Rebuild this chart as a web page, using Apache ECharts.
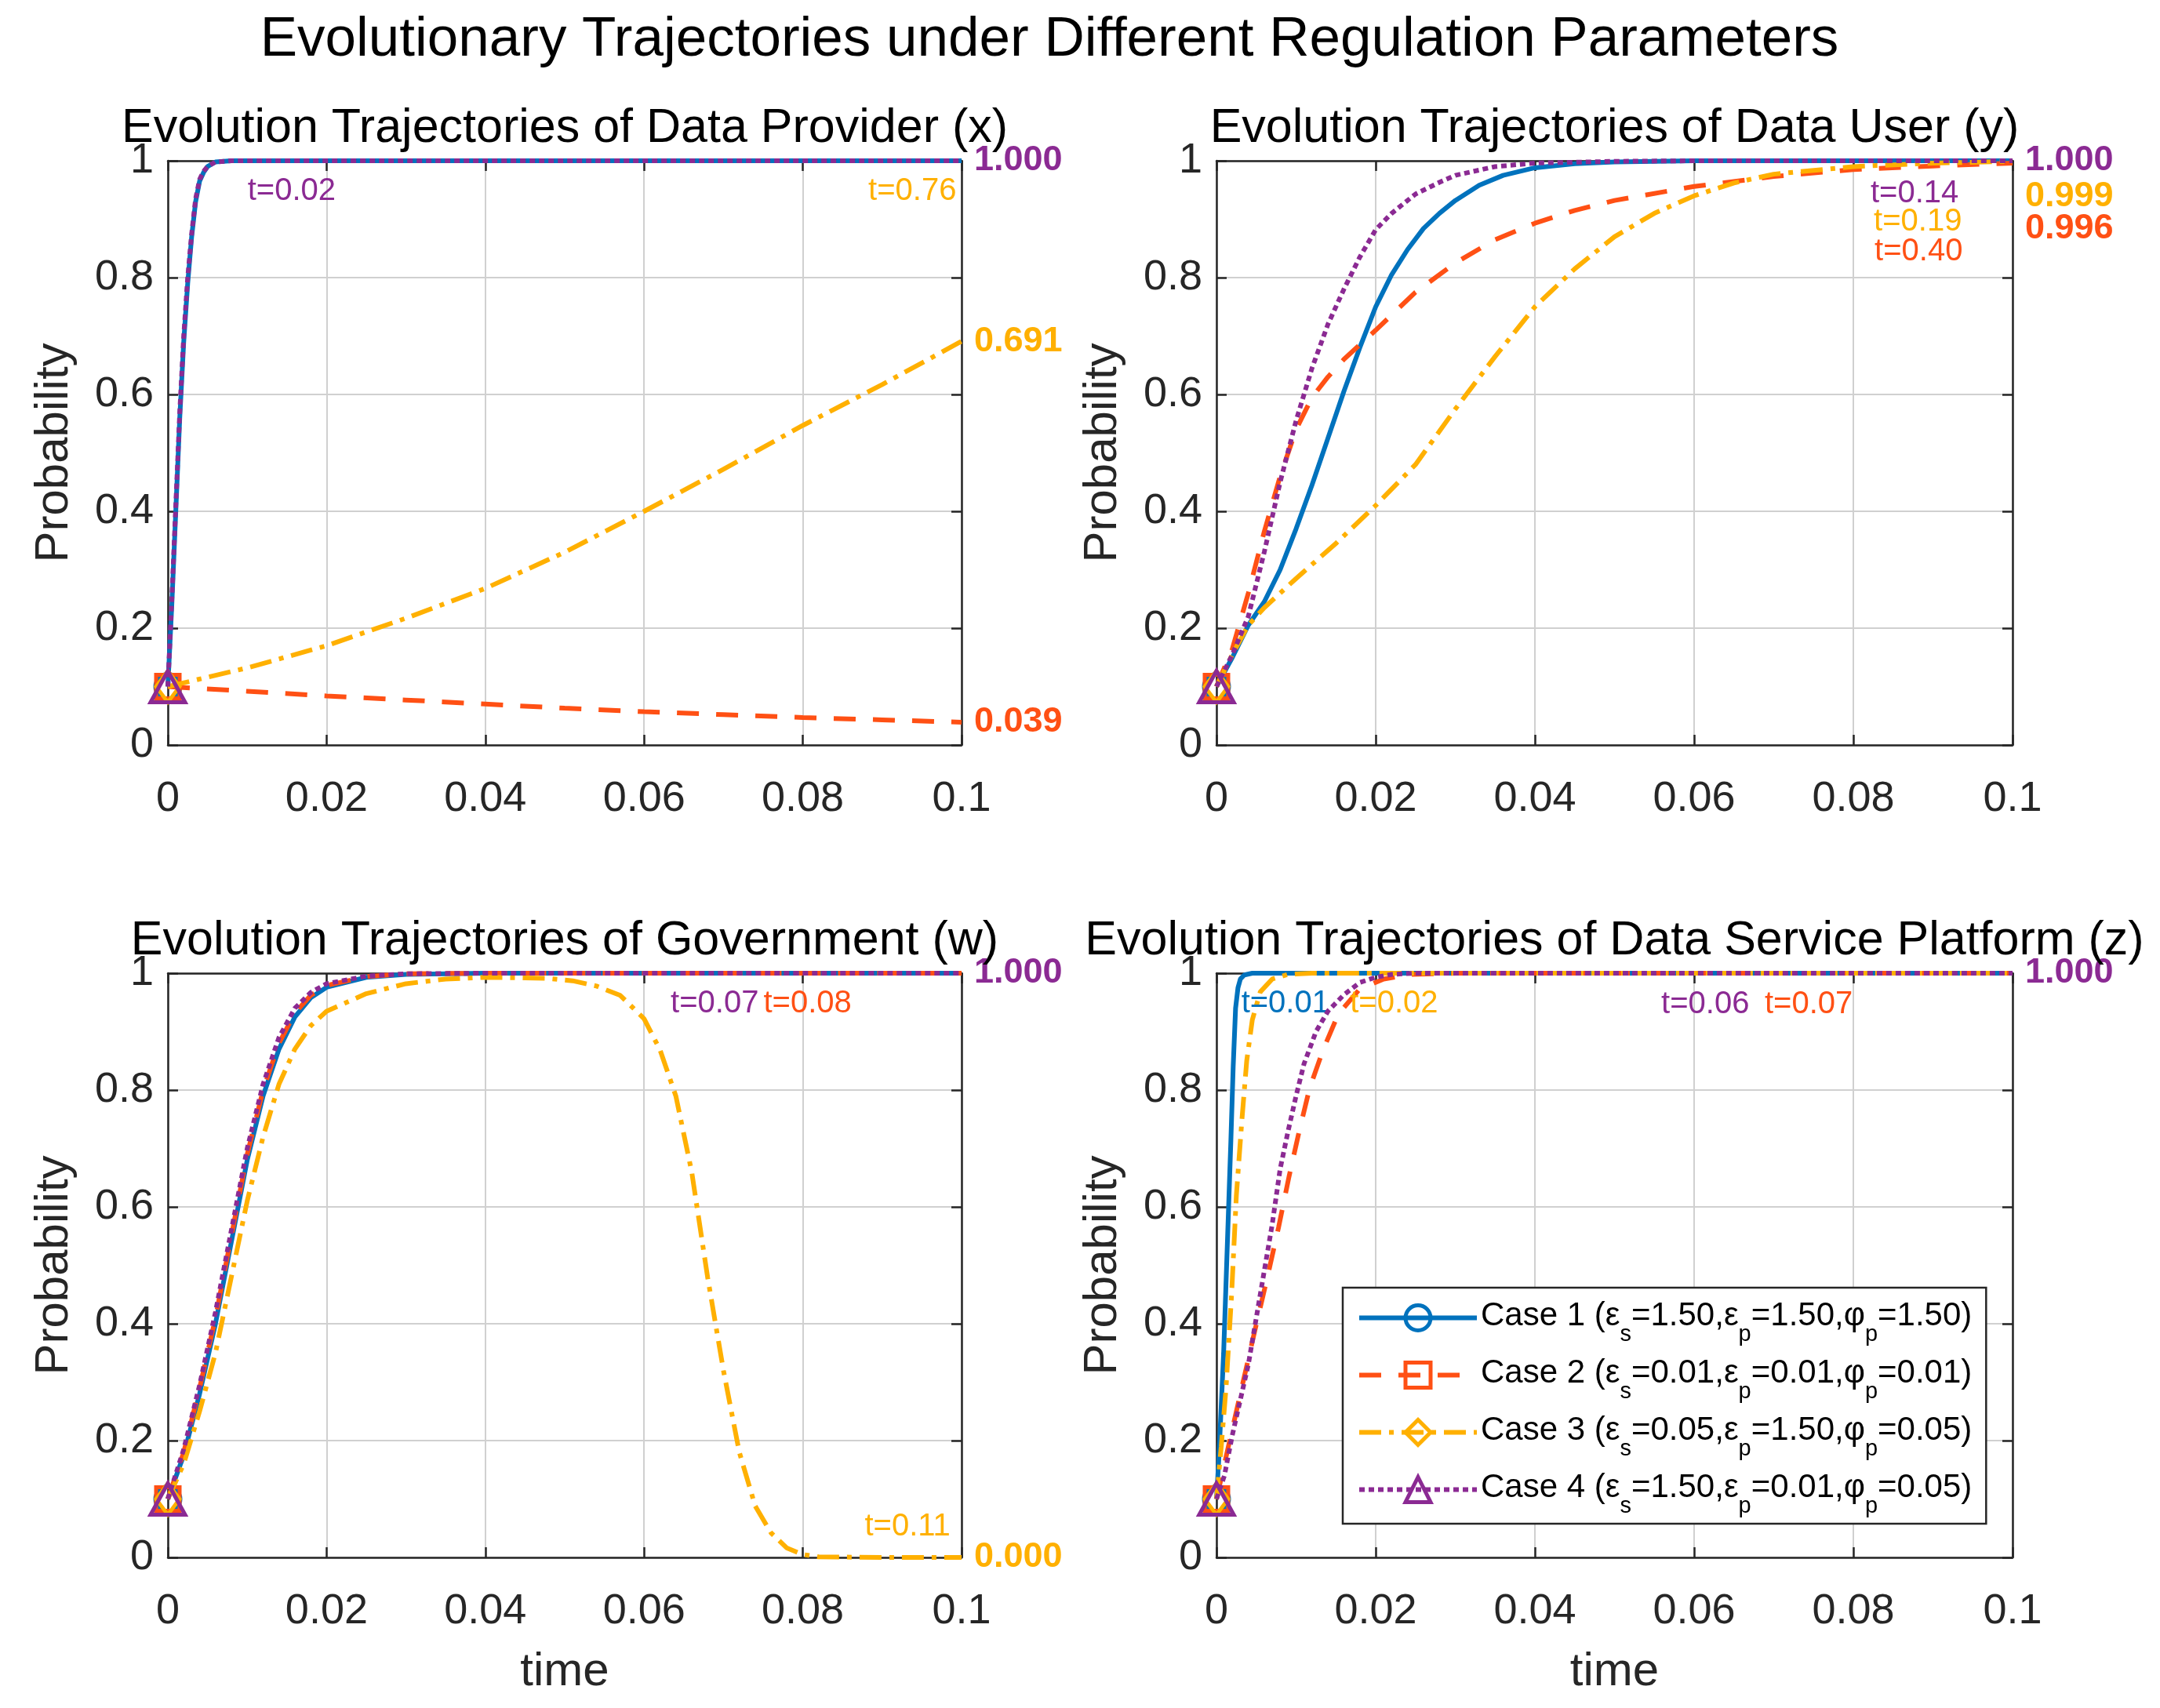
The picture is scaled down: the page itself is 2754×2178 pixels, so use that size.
<!DOCTYPE html>
<html><head><meta charset="utf-8">
<script src="https://cdn.jsdelivr.net/npm/echarts@6/dist/echarts.min.js"></script>
<style>html,body{margin:0;padding:0;background:#fff}#c{width:2754px;height:2178px}</style>
</head><body><div id="c"></div>
<script>
// ---------------- data ----------------
const xTickStep = 0.02;
const yTickStep = 0.2;
const caseNames = ['Case 1', 'Case 2', 'Case 3', 'Case 4'];
const epsS = ['1.50', '0.01', '0.05', '1.50'];
const epsP = ['1.50', '0.01', '1.50', '0.01'];
const phiP = ['1.50', '0.01', '0.05', '0.05'];
const panelTitles = [
  'Evolution Trajectories of Data Provider (x)',
  'Evolution Trajectories of Data User (y)',
  'Evolution Trajectories of Government (w)',
  'Evolution Trajectories of Data Service Platform (z)'
];

// Data Provider (x)
const x_case1 = [[0,0.1],[0.0005,0.24],[0.001,0.4],[0.0015,0.56],[0.002,0.69],[0.0025,0.79],[0.003,0.87],[0.0035,0.93],[0.004,0.965],[0.0045,0.98],[0.005,0.99],[0.006,0.998],[0.008,1],[0.1,1]];
const x_case2 = [[0,0.1],[0.01,0.092],[0.02,0.084],[0.03,0.077],[0.04,0.07],[0.05,0.063],[0.06,0.057],[0.07,0.052],[0.08,0.047],[0.09,0.043],[0.1,0.039]];
const x_case3 = [[0,0.1],[0.01,0.132],[0.02,0.17],[0.03,0.217],[0.04,0.268],[0.05,0.33],[0.06,0.4],[0.07,0.472],[0.08,0.547],[0.09,0.617],[0.1,0.691]];
const x_case4 = [[0,0.1],[0.0005,0.25],[0.001,0.41],[0.0015,0.57],[0.002,0.7],[0.0025,0.8],[0.003,0.875],[0.0035,0.935],[0.004,0.968],[0.0045,0.982],[0.005,0.99],[0.006,0.998],[0.008,1],[0.1,1]];

// Data User (y)
const y_case1 = [[0,0.1],[0.002,0.15],[0.004,0.205],[0.006,0.245],[0.008,0.3],[0.01,0.37],[0.012,0.445],[0.014,0.525],[0.016,0.605],[0.018,0.68],[0.02,0.75],[0.022,0.805],[0.024,0.848],[0.026,0.884],[0.028,0.91],[0.03,0.932],[0.033,0.958],[0.036,0.975],[0.04,0.988],[0.045,0.995],[0.05,0.998],[0.06,1],[0.1,1]];
const y_case2 = [[0,0.1],[0.002,0.165],[0.004,0.26],[0.006,0.365],[0.008,0.46],[0.01,0.54],[0.012,0.595],[0.014,0.63],[0.016,0.66],[0.018,0.685],[0.02,0.71],[0.025,0.775],[0.03,0.825],[0.035,0.865],[0.04,0.893],[0.045,0.915],[0.05,0.932],[0.06,0.956],[0.07,0.973],[0.08,0.985],[0.09,0.991],[0.1,0.996]];
const y_case3 = [[0,0.1],[0.002,0.155],[0.004,0.205],[0.006,0.235],[0.008,0.26],[0.01,0.285],[0.015,0.345],[0.02,0.41],[0.025,0.48],[0.03,0.575],[0.035,0.665],[0.04,0.75],[0.045,0.815],[0.05,0.87],[0.055,0.91],[0.06,0.94],[0.065,0.962],[0.07,0.977],[0.08,0.99],[0.09,0.996],[0.1,0.999]];
const y_case4 = [[0,0.1],[0.002,0.155],[0.004,0.22],[0.006,0.33],[0.008,0.45],[0.01,0.555],[0.012,0.645],[0.014,0.72],[0.016,0.78],[0.018,0.835],[0.02,0.882],[0.022,0.91],[0.025,0.943],[0.028,0.963],[0.03,0.975],[0.035,0.99],[0.04,0.996],[0.05,0.999],[0.06,1],[0.1,1]];

// Government (w)
const w_case1 = [[0,0.1],[0.002,0.175],[0.004,0.28],[0.006,0.4],[0.008,0.54],[0.01,0.68],[0.012,0.79],[0.014,0.87],[0.016,0.925],[0.018,0.958],[0.02,0.976],[0.025,0.993],[0.03,0.998],[0.04,1],[0.1,1]];
const w_case2 = [[0,0.1],[0.002,0.18],[0.004,0.29],[0.006,0.41],[0.008,0.55],[0.01,0.69],[0.012,0.8],[0.014,0.88],[0.016,0.932],[0.018,0.962],[0.02,0.979],[0.025,0.994],[0.03,0.999],[0.04,1],[0.1,1]];
const w_case3 = [[0,0.1],[0.002,0.16],[0.004,0.25],[0.006,0.35],[0.008,0.48],[0.01,0.61],[0.012,0.72],[0.014,0.81],[0.016,0.87],[0.018,0.91],[0.02,0.935],[0.025,0.965],[0.03,0.982],[0.035,0.99],[0.04,0.993],[0.045,0.992],[0.048,0.991],[0.051,0.987],[0.054,0.978],[0.057,0.962],[0.06,0.922],[0.062,0.869],[0.064,0.79],[0.066,0.66],[0.068,0.48],[0.07,0.32],[0.072,0.18],[0.074,0.088],[0.076,0.042],[0.078,0.016],[0.08,0.005],[0.082,0.001],[0.09,0],[0.1,0]];
const w_case4 = [[0,0.1],[0.002,0.185],[0.004,0.295],[0.006,0.42],[0.008,0.56],[0.01,0.7],[0.012,0.81],[0.014,0.89],[0.016,0.94],[0.018,0.967],[0.02,0.982],[0.025,0.995],[0.03,0.999],[0.04,1],[0.1,1]];

// Data Service Platform (z)
const z_case1 = [[0,0.1],[0.0003,0.17],[0.0006,0.26],[0.0009,0.35],[0.0012,0.47],[0.0015,0.59],[0.0018,0.71],[0.0021,0.84],[0.0024,0.94],[0.0027,0.975],[0.003,0.99],[0.0035,0.997],[0.0045,1],[0.1,1]];
const z_case2 = [[0,0.1],[0.0015,0.19],[0.003,0.28],[0.0048,0.387],[0.0065,0.486],[0.0078,0.565],[0.0091,0.651],[0.0104,0.73],[0.0117,0.803],[0.0134,0.869],[0.0153,0.93],[0.018,0.973],[0.021,0.99],[0.0245,0.998],[0.03,1],[0.1,1]];
const z_case3 = [[0,0.1],[0.0006,0.19],[0.0012,0.29],[0.0019,0.45],[0.0025,0.62],[0.0032,0.75],[0.0038,0.85],[0.0045,0.92],[0.0055,0.968],[0.007,0.99],[0.009,0.998],[0.012,1],[0.1,1]];
const z_case4 = [[0,0.1],[0.001,0.14],[0.002,0.21],[0.003,0.27],[0.004,0.33],[0.005,0.41],[0.006,0.49],[0.007,0.57],[0.008,0.665],[0.009,0.73],[0.01,0.79],[0.011,0.845],[0.0125,0.9],[0.014,0.935],[0.016,0.963],[0.018,0.984],[0.02,0.993],[0.022,0.998],[0.025,1],[0.1,1]];

const panelData = [
  [x_case1, x_case2, x_case3, x_case4],
  [y_case1, y_case2, y_case3, y_case4],
  [w_case1, w_case2, w_case3, w_case4],
  [z_case1, z_case2, z_case3, z_case4]
];

// annotations: [panel, case, t, prob, text, kind]
const annotations = [
  [0, 3, 0.1, 1.0, '1.000', 'end'],
  [0, 2, 0.1, 0.691, '0.691', 'end'],
  [0, 1, 0.1, 0.039, '0.039', 'end'],
  [0, 3, 0.0156, 0.948, 't=0.02', 'time'],
  [0, 2, 0.0938, 0.948, 't=0.76', 'time'],
  [1, 3, 0.1, 1.0, '1.000', 'end'],
  [1, 2, 0.1, 0.939, '0.999', 'end'],
  [1, 1, 0.1, 0.884, '0.996', 'end'],
  [1, 3, 0.0877, 0.943, 't=0.14', 'time'],
  [1, 2, 0.0881, 0.896, 't=0.19', 'time'],
  [1, 1, 0.0882, 0.844, 't=0.40', 'time'],
  [2, 3, 0.1, 1.0, '1.000', 'end'],
  [2, 2, 0.1, 0.0, '0.000', 'end'],
  [2, 3, 0.0689, 0.948, 't=0.07', 'time'],
  [2, 1, 0.0806, 0.948, 't=0.08', 'time'],
  [2, 2, 0.0932, 0.052, 't=0.11', 'time'],
  [3, 3, 0.1, 1.0, '1.000', 'end'],
  [3, 0, 0.00865, 0.948, 't=0.01', 'time'],
  [3, 2, 0.0223, 0.948, 't=0.02', 'time'],
  [3, 3, 0.0614, 0.946, 't=0.06', 'time'],
  [3, 1, 0.0744, 0.946, 't=0.07', 'time']
];

// ---------------- styles ----------------
const FONT = "'Liberation Sans', Arial, Helvetica, sans-serif";
const caseColors = ['#0072BD', '#FF5014', '#FFB000', '#8B2A93'];
const caseDash = ['solid', [28, 22], [28, 10, 6, 10], [7, 5]];
const caseSymbol = ['circle', 'rect', 'diamond', 'triangle'];
const caseSymbolSize = [[32, 32], [30, 30], [30, 40], [44, 40]];
const grids = [
  {left: 214, top: 205, width: 1012, height: 745},
  {left: 1551, top: 205, width: 1015, height: 745},
  {left: 214, top: 1241, width: 1012, height: 745},
  {left: 1551, top: 1241, width: 1015, height: 745}
];
const AX = '#262626';

const xAxes = [], yAxes = [], series = [];
grids.forEach((g, i) => {
  const common = {
    type: 'value', gridIndex: i,
    axisLine: {show: true, onZero: false, lineStyle: {color: AX, width: 2.5}},
    axisTick: {show: true, inside: true, length: 13, lineStyle: {color: AX, width: 2.5}}
  };
  xAxes.push(Object.assign({}, common, {
    position: 'bottom', min: 0, max: 0.1, interval: xTickStep,
    axisLabel: {fontSize: 54, color: AX, margin: 42, fontFamily: FONT},
    splitLine: {show: true, lineStyle: {color: '#d0d0d0', width: 2}},
    name: i >= 2 ? 'time' : '', nameLocation: 'middle', nameGap: 116,
    nameTextStyle: {fontSize: 60, color: AX, fontFamily: FONT}
  }));
  xAxes.push(Object.assign({}, common, {
    position: 'top', min: 0, max: 0.1, interval: xTickStep,
    axisLabel: {show: false}, splitLine: {show: false}
  }));
  yAxes.push(Object.assign({}, common, {
    position: 'left', min: 0, max: 1, interval: yTickStep,
    axisLabel: {fontSize: 54, color: AX, margin: 18, fontFamily: FONT},
    splitLine: {show: true, lineStyle: {color: '#d0d0d0', width: 2}},
    name: 'Probability', nameLocation: 'middle', nameGap: 115,
    nameTextStyle: {fontSize: 60, color: AX, fontFamily: FONT}
  }));
  yAxes.push(Object.assign({}, common, {
    position: 'right', min: 0, max: 1, interval: yTickStep,
    axisLabel: {show: false}, splitLine: {show: false}
  }));

  for (let c = 0; c < 4; c++) {
    const marks = annotations.filter(a => a[0] === i && a[1] === c).map(a => {
      const isEnd = a[5] === 'end';
      return {
        coord: [a[2], a[3]],
        symbolSize: 0,
        label: isEnd ? {
          show: true, position: 'right', distance: 16, formatter: a[4],
          color: caseColors[c], fontSize: 45, fontWeight: 'bold', fontFamily: FONT
        } : {
          show: true, position: 'inside', formatter: a[4],
          color: caseColors[c], fontSize: 40, fontFamily: FONT
        }
      };
    });
    series.push({
      type: 'line', name: caseNames[c], xAxisIndex: 2 * i, yAxisIndex: 2 * i,
      data: panelData[i][c],
      symbol: caseSymbol[c],
      symbolSize: (v) => (v[0] === 0 ? caseSymbolSize[c] : 0),
      showSymbol: true, showAllSymbol: true,
      itemStyle: {color: 'rgba(255,255,255,0)', borderColor: caseColors[c], borderWidth: 5},
      lineStyle: {color: caseColors[c], width: 6, type: caseDash[c]},
      emphasis: {disabled: true},
      z: 2 + c,
      markPoint: {symbol: 'circle', symbolSize: 0, animation: false, silent: true, data: marks}
    });
  }
});

const titles = [{
  text: 'Evolutionary Trajectories under Different Regulation Parameters',
  left: 1338, top: 16, textAlign: 'center', padding: 0,
  textStyle: {fontSize: 71, fontWeight: 'normal', color: '#000', fontFamily: FONT}
}];
const titleTops = [134, 134, 1170, 1170];
grids.forEach((g, i) => {
  titles.push({
    text: panelTitles[i], left: g.left + g.width / 2, top: titleTops[i], textAlign: 'center', padding: 0,
    textStyle: {fontSize: 61, fontWeight: 'normal', color: '#000', fontFamily: FONT}
  });
});

const legendText = (name) => {
  const k = caseNames.indexOf(name);
  return '{m|' + name + ' (ε}{s|s}{m|=' + epsS[k] + ',ε}{s|p}{m|=' + epsP[k] + ',φ}{s|p}{m|=' + phiP[k] + ')}';
};

const option = {
  animation: false,
  backgroundColor: '#fff',
  title: titles,
  grid: grids.map(g => Object.assign({containLabel: false}, g)),
  xAxis: xAxes,
  yAxis: yAxes,
  legend: {
    data: caseNames, orient: 'vertical', left: 1712, top: 1642,
    padding: [3, 18, 8, 18], itemGap: 2, itemWidth: 150, itemHeight: 40,
    backgroundColor: '#fff', borderColor: AX, borderWidth: 2.5, borderRadius: 0,
    selectedMode: false,
    lineStyle: {width: 6},
    itemStyle: {borderWidth: 5},
    formatter: legendText,
    textStyle: {
      fontSize: 42, fontFamily: FONT, color: '#000',
      rich: {
        m: {fontSize: 42, fontFamily: FONT, color: '#000', lineHeight: 46, verticalAlign: 'top', padding: [12, 0, 0, 0]},
        s: {fontSize: 29, fontFamily: FONT, color: '#000', padding: [42, 0, 0, 0], verticalAlign: 'bottom'}
      }
    }
  },
  series: series
};

const chart = echarts.init(document.getElementById('c'), null, {renderer: 'canvas'});
chart.setOption(option);
</script>
</body></html>
